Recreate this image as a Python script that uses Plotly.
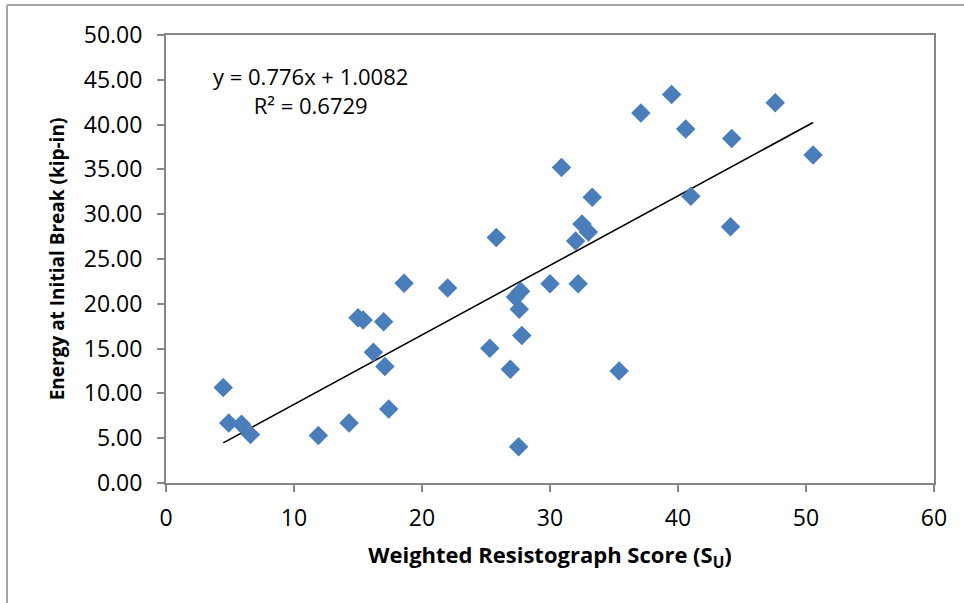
import plotly.graph_objects as go

# Data
score = [4.47, 4.9, 5.9, 6.6, 11.9, 14.3, 15.0, 15.4, 16.2, 17.0, 17.1, 17.4,
         18.6, 22.0, 25.3, 25.8, 26.9, 27.3, 27.7, 27.6, 27.8, 27.55, 30.0, 30.9,
         32.0, 32.2, 32.5, 33.0, 33.3, 35.4, 37.1, 39.5, 40.6, 41.0, 44.1, 44.2,
         47.6, 50.55]
energy = [10.65, 6.7, 6.55, 5.4, 5.3, 6.7, 18.45, 18.2, 14.6, 18.0, 13.0, 8.25,
          22.3, 21.75, 15.05, 27.4, 12.7, 20.75, 21.4, 19.4, 16.45, 4.05, 22.25, 35.2,
          27.0, 22.25, 28.9, 28.0, 31.9, 12.5, 41.3, 43.35, 39.5, 32.0, 28.6, 38.45,
          42.45, 36.6]

slope = 0.776
intercept = 1.0082
r2 = 0.6729

x_ticks = [0, 10, 20, 30, 40, 50, 60]
y_ticks = [0, 5, 10, 15, 20, 25, 30, 35, 40, 45, 50]

FONT = "Open Sans"
GRID = "#868686"

trend_x = [min(score), max(score)]
trend_y = [slope * v + intercept for v in trend_x]

fig = go.Figure()
fig.add_trace(go.Scatter(
    x=trend_x, y=trend_y, mode="lines",
    line=dict(color="black", width=1.6), showlegend=False, hoverinfo="skip"))
fig.add_trace(go.Scatter(
    x=score, y=energy, mode="markers",
    marker=dict(symbol="diamond", size=15, color="#4A7EBB", line=dict(width=0)),
    showlegend=False))

fig.update_layout(
    width=964, height=603,
    margin=dict(l=166, r=30, t=35, b=120),
    paper_bgcolor="white", plot_bgcolor="white",
    font=dict(family=FONT, size=23, color="black"),
    xaxis=dict(
        range=[0, 60], tickvals=x_ticks, showgrid=False, zeroline=False,
        showline=True, linecolor=GRID, linewidth=2, mirror=True,
        ticks="outside", ticklen=7, tickwidth=2, tickcolor=GRID,
        ticklabelstandoff=6,
        tickfont=dict(family=FONT, size=23),
        title=dict(text="<b>Weighted Resistograph Score (S<sub>U</sub>)</b>",
                   font=dict(family=FONT, size=22), standoff=16)),
    yaxis=dict(
        range=[0, 50], tickvals=y_ticks, tickformat=".2f", showgrid=False,
        zeroline=False, showline=True, linecolor=GRID, linewidth=2, mirror=True,
        ticks="outside", ticklen=7, tickwidth=2, tickcolor=GRID,
        ticklabelstandoff=10,
        tickfont=dict(family=FONT, size=23),
        title=dict(text="<b>Energy at Initial Break (kip-in)</b>",
                   font=dict(family=FONT, size=19), standoff=14)),
    annotations=[
        dict(text=f"y = {slope}x + {intercept}<br>R² = {r2}",
             xref="paper", yref="paper", align="center",
             x=0.1875, y=0.876, xanchor="center", yanchor="middle",
             showarrow=False, font=dict(family=FONT, size=22)),
    ],
    shapes=[
        dict(type="line", xref="paper", yref="paper", x0=-0.207, x1=-0.207,
             y0=1.067, y1=-0.3, line=dict(color="#A6A6A6", width=2)),
        dict(type="line", xref="paper", yref="paper", x0=-0.207, x1=1.06,
             y0=1.067, y1=1.067, line=dict(color="#A6A6A6", width=2)),
    ],
)

fig.write_html("out.html")
